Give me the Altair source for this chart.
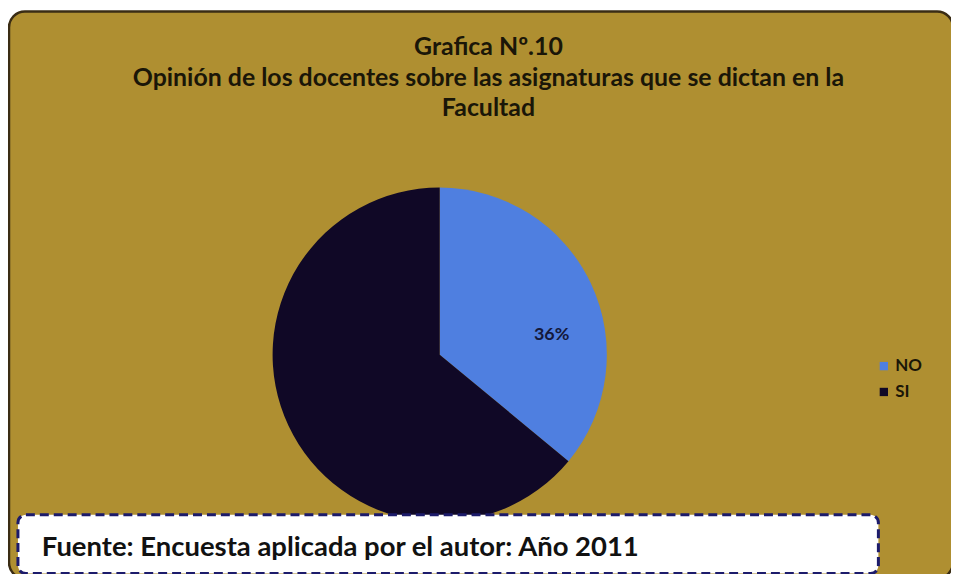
import altair as alt
import pandas as pd

# ---- data ----
categories = ["NO", "SI"]
values = [36, 64]
labels = ["36%", "64%"]
colors = ["#4f7fe0", "#100826"]

title_lines = [
    "Grafica Nº.10",
    "Opinión de los docentes sobre las asignaturas que se dictan en la",
    "Facultad",
]
source_text = "Fuente: Encuesta aplicada por el autor: Año 2011"

df = pd.DataFrame({"category": categories, "value": values, "label": labels})

W, H = 948, 566
GOLD = "#af8f31"
DARK = "#1a1608"
FONT = "Lato"

one = pd.DataFrame({"a": [0]})

background = alt.Chart(one).mark_rect(
    fill=GOLD, stroke="#3a2c14", strokeWidth=2.5, cornerRadius=16
).encode(x=alt.value(1), x2=alt.value(950), y=alt.value(2), y2=alt.value(572))

title = alt.Chart(pd.DataFrame({"t": ["\n".join(title_lines)]})).mark_text(
    font=FONT, fontSize=25, fontWeight="bold", color=DARK, align="center",
    baseline="middle", lineBreak="\n", lineHeight=30.5,
).encode(text="t:N", x=alt.value(483), y=alt.value(38))

pie_base = alt.Chart(df).encode(
    theta=alt.Theta("value:Q", stack=True),
    order=alt.Order("category:N"),
    x=alt.value(434),
    y=alt.value(347),
)

pie = pie_base.mark_arc(outerRadius=168).encode(
    color=alt.Color(
        "category:N",
        scale=alt.Scale(domain=categories, range=colors),
        legend=alt.Legend(
            orient="none", legendX=872, legendY=350, title=None,
            symbolType="square", symbolSize=70, symbolStrokeWidth=0,
            labelFont=FONT, labelFontSize=17, labelFontWeight="bold",
            labelColor=DARK, rowPadding=8, labelOffset=3,
        ),
    )
)

pie_label = pie_base.mark_text(
    radius=100, dx=22, dy=23, font=FONT, fontSize=18, fontWeight="bold", color="#14183a"
).encode(text=alt.condition(alt.datum.category == "NO", "label:N", alt.value("")))

source_box = alt.Chart(one).mark_rect(
    fill="white", stroke="#1c1b6b", strokeWidth=3, strokeDash=[9, 5], cornerRadius=8
).encode(x=alt.value(10), x2=alt.value(875), y=alt.value(508), y2=alt.value(567))

source = alt.Chart(pd.DataFrame({"t": [source_text]})).mark_text(
    font=FONT, fontSize=27.6, fontWeight="bold", color="#111111", align="left", baseline="middle"
).encode(text="t:N", x=alt.value(34), y=alt.value(541))

chart = alt.layer(background, title, pie, pie_label, source_box, source).properties(
    width=W, height=H, autosize=alt.AutoSizeParams(type="none"), padding=0
).configure_view(stroke=None)

chart.save("out.html", embed_options={"renderer": "svg", "actions": False})
